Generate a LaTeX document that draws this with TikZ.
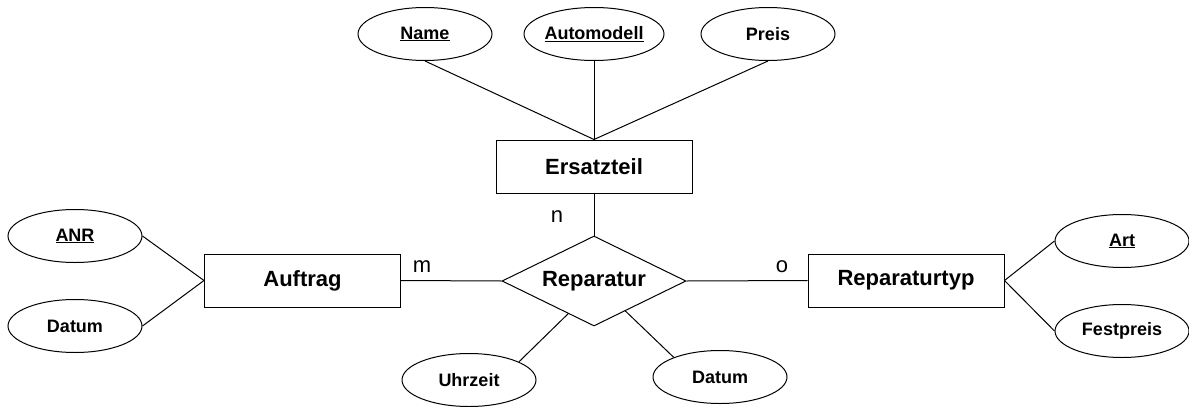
\documentclass[tikz,border=0pt]{standalone}
\usepackage{fontspec}
\setmainfont{Liberation Sans}
\usetikzlibrary{shapes.geometric,calc}
\tikzset{
  attr/.style={draw,ellipse,line width=1pt,inner sep=0pt,minimum width=134pt,minimum height=53pt,font=\fontsize{18}{20}\selectfont\bfseries},
  entity/.style={draw,rectangle,line width=1pt,inner sep=0pt,minimum width=196pt,minimum height=53pt,font=\fontsize{22}{24}\selectfont\bfseries},
  rel/.style={draw,diamond,aspect=2.044,line width=1pt,inner sep=0pt,minimum width=184pt,minimum height=90pt,font=\fontsize{22}{24}\selectfont\bfseries},
  card/.style={inner sep=0pt,font=\fontsize{22}{24}\selectfont},
  conn/.style={line width=1pt}
}
\begin{document}
\begin{tikzpicture}[x=1pt,y=-1pt]
\useasboundingbox (0,0) rectangle (1189,407);
% entities
\node[entity] (ers) at (594,166.5) {Ersatzteil};
\node[entity] (auf) at (302.5,280.5) {Auftrag};
\node[entity] (typ) at (906,280.5) {Reparaturtyp};
\node[rel] (rep) at (594,281) {Reparatur};
% attributes
\node[attr] (name) at (425,34) {\underline{Name}};
\node[attr] (auto) at (594,34) {\underline{Automodell}};
\node[attr] (preis) at (768,34) {Preis};
\node[attr] (anr) at (75,236) {\underline{ANR}};
\node[attr] (dat1) at (75,326) {Datum};
\node[attr] (art) at (1122,241) {\underline{Art}};
\node[attr] (fest) at (1122,331) {Festpreis};
\node[attr] (uhr) at (469,380) {Uhrzeit};
\node[attr] (dat2) at (720,377) {Datum};
% cardinalities
\node[card] (cn) at (557,217) {n};
\node[card] (cm) at (422,267) {m};
\node[card] (co) at (782,267) {o};
% connectors
\draw[conn] (name.south) -- (ers.north);
\draw[conn] (auto.south) -- (ers.north);
\draw[conn] (preis.south) -- (ers.north);
\draw[conn] (anr.east) -- (auf.west);
\draw[conn] (dat1.east) -- (auf.west);
\draw[conn] (art.west) -- (typ.east);
\draw[conn] (fest.west) -- (typ.east);
\draw[conn] (ers.south) -- (rep.north);
\draw[conn] (auf.east) -- (rep.west);
\draw[conn] (rep.east) -- (typ.west);
\coordinate (rl) at ($(rep.south)!0.28!(rep.west)$);
\coordinate (rr) at ($(rep.south)!0.34!(rep.east)$);
\draw[conn] (rl) -- (uhr.20);
\draw[conn] (rr) -- (dat2.157);
\end{tikzpicture}
\end{document}
